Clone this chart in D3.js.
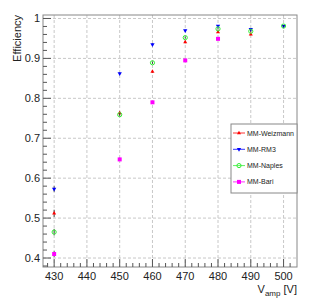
<!DOCTYPE html>
<html>
<head>
<meta charset="utf-8">
<script src="https://cdn.jsdelivr.net/npm/d3@7"></script>
<style>
  body { margin: 0; background: #fff; }
  svg { font-family: "Liberation Sans", Arial, sans-serif; }
</style>
</head>
<body>
<svg id="chart" width="316" height="303"></svg>
<script>
// data
var xTicks = [430, 440, 450, 460, 470, 480, 490, 500];
var yTicks = [0.4, 0.5, 0.6, 0.7, 0.8, 0.9, 1];

var weizX = [430, 450, 460, 470, 480, 490];
var weizY = [0.512, 0.763, 0.867, 0.941, 0.966, 0.960];
var weizE = [0.009, 0.004, 0.003, 0.003, 0.002, 0.002];

var rm3X = [430, 450, 460, 470, 480, 490, 500];
var rm3Y = [0.573, 0.862, 0.935, 0.970, 0.981, 0.973, 0.981];
var rm3E = [0.007, 0.003, 0.003, 0.002, 0.002, 0.002, 0.002];

var napX = [430, 450, 460, 470, 480, 490, 500];
var napY = [0.465, 0.759, 0.889, 0.952, 0.974, 0.968, 0.981];
var napE = [0.008, 0.004, 0.003, 0.003, 0.002, 0.002, 0.002];

var bariX = [430, 450, 460, 470, 480];
var bariY = [0.410, 0.647, 0.790, 0.895, 0.949];
var bariE = [0.007, 0.004, 0.003, 0.003, 0.002];

var seriesNames = ["MM-Weizmann", "MM-RM3", "MM-Naples", "MM-Bari"];
var seriesColors = ["#ff0000", "#0000ff", "#33ee33", "#ff00ff"];
var seriesShapes = ["up", "down", "circle", "square"];

function draw() {
  var series = [
    {x: weizX, y: weizY, e: weizE},
    {x: rm3X, y: rm3Y, e: rm3E},
    {x: napX, y: napY, e: napE},
    {x: bariX, y: bariY, e: bariE}
  ];

  var svg = d3.select("#chart");
  var fL = 43, fR = 297, fT = 15, fB = 267;

  var x = d3.scaleLinear().domain([426.6, 504.1]).range([fL, fR]);
  var y = d3.scaleLinear().domain([0.3775, 1.0087]).range([fB, fT]);

  // grid
  var grid = svg.append("g");
  grid.selectAll(".gx").data(xTicks).enter().append("line")
    .attr("x1", d => x(d)).attr("x2", d => x(d))
    .attr("y1", fT).attr("y2", fB)
    .attr("stroke", "#c8c8c8").attr("stroke-dasharray", "3,2");
  grid.selectAll(".gy").data(yTicks).enter().append("line")
    .attr("x1", fL).attr("x2", fR)
    .attr("y1", d => y(d)).attr("y2", d => y(d))
    .attr("stroke", "#c8c8c8").attr("stroke-dasharray", "3,2");

  // frame
  svg.append("rect")
    .attr("x", fL).attr("y", fT)
    .attr("width", fR - fL).attr("height", fB - fT)
    .attr("fill", "none").attr("stroke", "#888").attr("stroke-width", 1);

  // minor + major ticks
  var xMinor = d3.range(428, 504, 2);
  var yMinor = d3.range(0.38, 1.009, 0.02);

  svg.append("g").selectAll("line").data(xMinor).enter().append("line")
    .attr("x1", d => x(d)).attr("x2", d => x(d))
    .attr("y1", fB).attr("y2", d => fB - ((Math.round(d) % 10 === 0) ? 8 : 4))
    .attr("stroke", "#555");
  svg.append("g").selectAll("line").data(yMinor).enter().append("line")
    .attr("y1", d => y(d)).attr("y2", d => y(d))
    .attr("x1", fL).attr("x2", d => fL + ((Math.round(d * 100) % 10 === 0) ? 8 : 4))
    .attr("stroke", "#555");

  // tick labels
  svg.append("g").selectAll("text").data(xTicks).enter().append("text")
    .attr("x", d => x(d)).attr("y", 280)
    .attr("text-anchor", "middle").attr("font-size", 11).attr("fill", "#222")
    .text(d => d);
  svg.append("g").selectAll("text").data(yTicks).enter().append("text")
    .attr("x", 40).attr("y", d => y(d) + 4)
    .attr("text-anchor", "end").attr("font-size", 11).attr("fill", "#222")
    .text(d => d3.format("~g")(d));

  // axis titles
  svg.append("text")
    .attr("transform", "translate(21,15) rotate(-90)")
    .attr("text-anchor", "end").attr("font-size", 11).attr("fill", "#222")
    .text("Efficiency");
  var xt = svg.append("text")
    .attr("x", 297).attr("y", 293)
    .attr("text-anchor", "end").attr("font-size", 11).attr("fill", "#222");
  xt.append("tspan").text("V");
  xt.append("tspan").attr("font-size", 8).attr("dy", 3).text("amp");
  xt.append("tspan").attr("dy", -3).text(" [V]");

  function drawMarker(g, shape, color, cx, cy) {
    if (shape === "up") {
      g.append("path").attr("d", d3.symbol().type(d3.symbolTriangle).size(7)())
        .attr("transform", "translate(" + cx + "," + cy + ")").attr("fill", color);
    } else if (shape === "down") {
      g.append("path").attr("d", d3.symbol().type(d3.symbolTriangle).size(8)())
        .attr("transform", "translate(" + cx + "," + cy + ") rotate(180)").attr("fill", color);
    } else if (shape === "circle") {
      g.append("circle").attr("cx", cx).attr("cy", cy).attr("r", 2.1)
        .attr("fill", "none").attr("stroke", color).attr("stroke-width", 1);
    } else {
      g.append("rect").attr("x", cx - 2).attr("y", cy - 2)
        .attr("width", 4).attr("height", 4).attr("fill", color);
    }
  }

  // points with error bars
  series.forEach(function(s, i) {
    var g = svg.append("g");
    s.x.forEach(function(xv, j) {
      g.append("line")
        .attr("x1", x(xv)).attr("x2", x(xv))
        .attr("y1", y(s.y[j] - s.e[j])).attr("y2", y(s.y[j] + s.e[j]))
        .attr("stroke", "#222").attr("stroke-width", 0.8);
      drawMarker(g, seriesShapes[i], seriesColors[i], x(xv), y(s.y[j]));
    });
  });

  // legend
  var lg = svg.append("g");
  lg.append("rect").attr("x", 231).attr("y", 124).attr("width", 66).attr("height", 69)
    .attr("fill", "#fff").attr("stroke", "#888");
  seriesNames.forEach(function(n, i) {
    var ly = 133 + i * 16.3;
    lg.append("line").attr("x1", 233).attr("x2", 245).attr("y1", ly).attr("y2", ly)
      .attr("stroke", seriesColors[i]).attr("stroke-width", 0.8);
    drawMarker(lg, seriesShapes[i], seriesColors[i], 239, ly);
    lg.append("text").attr("x", 247).attr("y", ly + 2.5)
      .attr("font-size", 7).attr("fill", "#222").text(n);
  });
}
draw();
</script>
</body>
</html>
